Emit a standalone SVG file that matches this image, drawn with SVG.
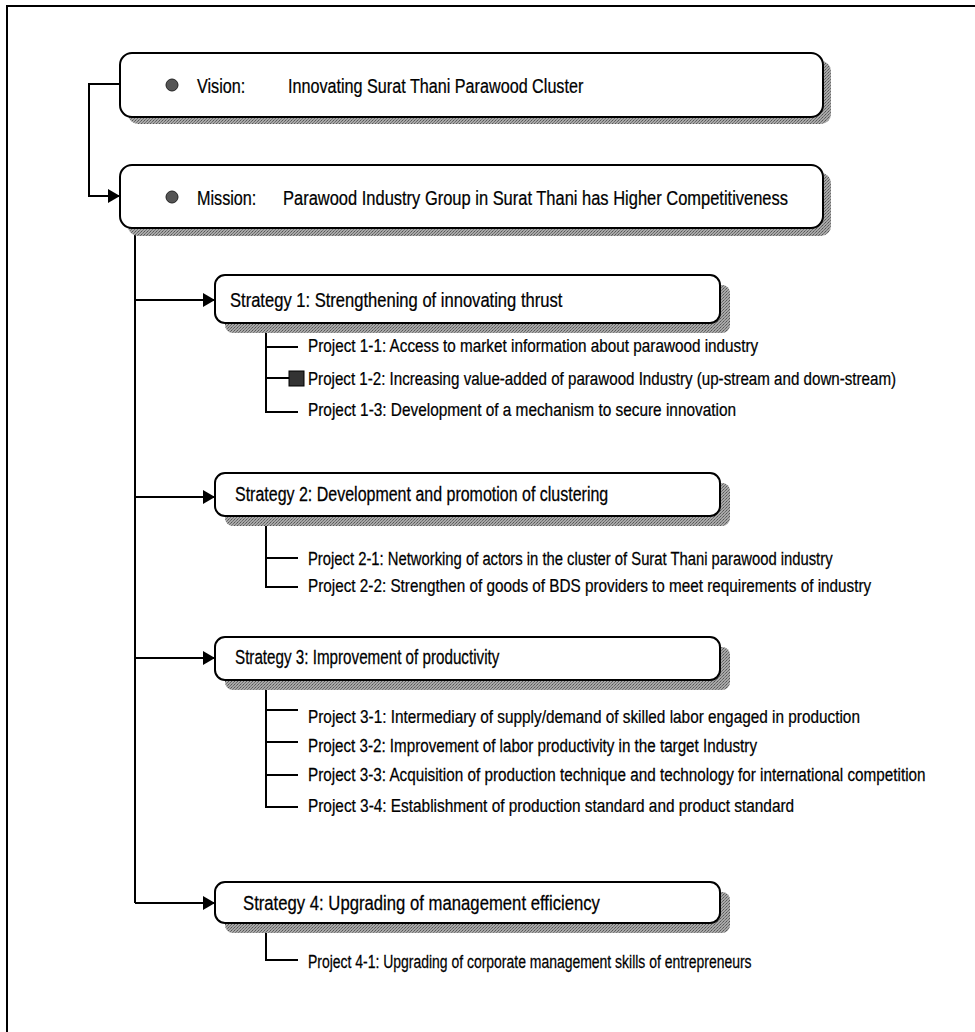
<svg xmlns="http://www.w3.org/2000/svg" width="975" height="1032" viewBox="0 0 975 1032">
<style>
.box{fill:#fff;stroke:#000;stroke-width:2}
.sh{fill:url(#stip)}
.ln{stroke:#000;stroke-width:2;fill:none}
.t{font-family:"Liberation Sans",Arial,sans-serif;fill:#000;stroke:#000;stroke-width:0.25}
.big{font-size:21px}
.mid{font-size:19.5px}
.sm{font-size:19px}
</style>
<defs>
<pattern id="stip" width="3" height="3" patternUnits="userSpaceOnUse">
<rect width="3" height="3" fill="#a8a8a8"/>
<rect width="1" height="1" fill="#555"/>
<rect x="2" y="1" width="1" height="1" fill="#6a6a6a"/>
<rect x="1" y="2" width="1" height="1" fill="#777"/>
</pattern>
<marker id="arr" markerWidth="12" markerHeight="14" refX="11" refY="7" orient="auto" markerUnits="userSpaceOnUse">
<path d="M0,0 L12,7 L0,14 Z" fill="#000"/>
</marker>
</defs>
<rect width="975" height="1032" fill="#fff"/>
<path class="ln" d="M7,1032 V6 H975"/>

<g id="connectors">
<path class="ln" d="M120,84 H89 V196 H119" marker-end="url(#arr)"/>
<path class="ln" d="M135,228 V903"/>
<path class="ln" d="M135,300 H214" marker-end="url(#arr)"/>
<path class="ln" d="M135,497 H214" marker-end="url(#arr)"/>
<path class="ln" d="M135,658 H214" marker-end="url(#arr)"/>
<path class="ln" d="M135,903 H214" marker-end="url(#arr)"/>
<path class="ln" d="M266,333 V412 H298 M266,347 H298 M266,378 H289"/>
<path class="ln" d="M266,525 V587 H298 M266,558 H298"/>
<path class="ln" d="M266,689 V807 H298 M266,710 H298 M266,742 H298 M266,775 H298"/>
<path class="ln" d="M266,933 V960 H298"/>
</g>

<g id="vision">
<rect class="sh" x="128" y="61" width="703" height="63" rx="10"/>
<rect class="box" x="120" y="53" width="703" height="64" rx="12"/>
<circle cx="172" cy="85" r="6" fill="#555" stroke="#222" stroke-width="1"/>
<text class="t big" transform="translate(197 93) scale(0.77 1)">Vision:</text>
<text class="t big" transform="translate(288 93) scale(0.77 1)">Innovating Surat Thani Parawood Cluster</text>
</g>

<g id="mission">
<rect class="sh" x="128" y="173" width="703" height="63" rx="10"/>
<rect class="box" x="120" y="165" width="703" height="63" rx="12"/>
<circle cx="172" cy="197" r="6" fill="#555" stroke="#222" stroke-width="1"/>
<text class="t big" transform="translate(197 205) scale(0.77 1)">Mission:</text>
<text class="t big" transform="translate(283 205) scale(0.785 1)">Parawood Industry Group in Surat Thani has Higher Competitiveness</text>
</g>

<g id="strategy1">
<rect class="sh" x="225" y="285" width="505" height="48" rx="8"/>
<rect class="box" x="215" y="275" width="505" height="48" rx="10"/>
<text class="t mid" transform="translate(230 307) scale(0.85 1)">Strategy 1: Strengthening of innovating thrust</text>
</g>
<g id="p1-1"><text class="t sm" transform="translate(308 352) scale(0.805 1)">Project 1-1: Access to market information about parawood industry</text></g>
<g id="p1-2">
<rect x="289" y="371" width="15" height="15" fill="#333" stroke="#000" stroke-width="1"/>
<text class="t sm" transform="translate(308 385) scale(0.797 1)">Project 1-2: Increasing value-added of parawood Industry (up-stream and down-stream)</text>
</g>
<g id="p1-3"><text class="t sm" transform="translate(308 416) scale(0.81 1)">Project 1-3: Development of a mechanism to secure innovation</text></g>

<g id="strategy2">
<rect class="sh" x="225" y="483" width="505" height="43" rx="8"/>
<rect class="box" x="215" y="473" width="505" height="43" rx="10"/>
<text class="t mid" transform="translate(235 501) scale(0.82 1)">Strategy 2: Development and promotion of clustering</text>
</g>
<g id="p2-1"><text class="t sm" transform="translate(308 565) scale(0.78 1)">Project 2-1: Networking of actors in the cluster of Surat Thani parawood industry</text></g>
<g id="p2-2"><text class="t sm" transform="translate(308 592) scale(0.805 1)">Project 2-2: Strengthen of goods of BDS providers to meet requirements of industry</text></g>

<g id="strategy3">
<rect class="sh" x="225" y="647" width="505" height="43" rx="8"/>
<rect class="box" x="215" y="637" width="505" height="43" rx="10"/>
<text class="t mid" transform="translate(235 664) scale(0.78 1)">Strategy 3:  Improvement of productivity</text>
</g>
<g id="p3-1"><text class="t sm" transform="translate(308 723) scale(0.808 1)">Project 3-1: Intermediary of supply/demand of skilled labor engaged in production</text></g>
<g id="p3-2"><text class="t sm" transform="translate(308 752) scale(0.8 1)">Project 3-2: Improvement of labor productivity in the target Industry</text></g>
<g id="p3-3"><text class="t sm" transform="translate(308 781) scale(0.804 1)">Project 3-3: Acquisition of production technique and technology for international competition</text></g>
<g id="p3-4"><text class="t sm" transform="translate(308 812) scale(0.81 1)">Project 3-4: Establishment of production standard and product standard</text></g>

<g id="strategy4">
<rect class="sh" x="225" y="892" width="505" height="41" rx="8"/>
<rect class="box" x="215" y="882" width="505" height="41" rx="10"/>
<text class="t mid" transform="translate(243 910) scale(0.857 1)">Strategy 4: Upgrading of management efficiency</text>
</g>
<g id="p4-1"><text class="t sm" transform="translate(308 968) scale(0.735 1)">Project 4-1: Upgrading of corporate management skills of entrepreneurs</text></g>
</svg>
